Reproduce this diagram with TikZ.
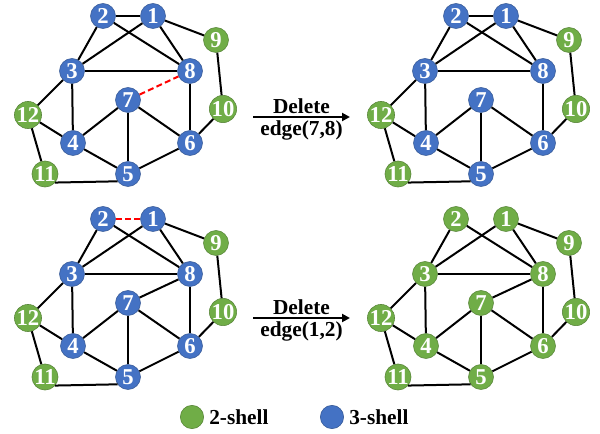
\documentclass[tikz,border=0pt]{standalone}
\usepackage{fontspec}
\setmainfont{Liberation Serif}
\usetikzlibrary{arrows.meta,positioning}

\definecolor{shellblue}{HTML}{4472C4}
\definecolor{shellgreen}{HTML}{70AD47}

\begin{document}
\begin{tikzpicture}[
        x=0.75pt, y=-0.75pt,
        vtx/.style={circle, minimum size=18.75pt, inner sep=0pt, text=white,
            font=\fontsize{17}{17}\selectfont\bfseries, line width=0.4pt},
        two/.style={vtx, fill=shellgreen, draw=shellgreen!75!black},
        three/.style={vtx, fill=shellblue, draw=shellblue!75!black},
        link/.style={line width=1.5pt},
        cut/.style={line width=1.5pt, red, dash pattern=on 4.5pt off 2.5pt},
        lbl/.style={font=\fontsize{16}{16}\selectfont\bfseries},
        step arrow/.style={line width=1.5pt, -{Triangle[length=6pt,width=6pt]}}
    ]
    \useasboundingbox (0,0) rectangle (600,434);

    % before deleting edge(7,8)
    \begin{scope}
        \foreach \n/\x/\y/\s in {1/153/16/three,2/103/16/three,3/72/71/three,4/73/143/three,
                5/128/174/three,6/190/143/three,7/128/100/three,8/190/71/three,
                9/216/40/two,10/223/109/two,11/45/174/two,12/28/115/two}
            \node[\s] (a\n) at (\x,\y) {\n};
        \foreach \u/\v in {1/2,2/3,2/8,1/3,1/8,1/9,9/10,10/6,3/8,3/4,3/12,12/4,
                12/11,4/5,4/7,7/5,7/6,8/6,5/6}
            \draw[link] (a\u) -- (a\v);
        \draw[link] (a11.-40) -- (a5.-145);
        \draw[cut] (a7) -- (a8);
    \end{scope}

    % after deleting edge(7,8)
    \begin{scope}[shift={(353,0)}]
        \foreach \n/\x/\y/\s in {1/153/16/three,2/103/16/three,3/72/71/three,4/73/143/three,
                5/128/174/three,6/190/143/three,7/128/100/three,8/190/71/three,
                9/216/40/two,10/223/109/two,11/45/174/two,12/28/115/two}
            \node[\s] (b\n) at (\x,\y) {\n};
        \foreach \u/\v in {1/2,2/3,2/8,1/3,1/8,1/9,9/10,10/6,3/8,3/4,3/12,12/4,
                12/11,4/5,4/7,7/5,7/6,8/6,5/6}
            \draw[link] (b\u) -- (b\v);
        \draw[link] (b11.-40) -- (b5.-145);
    \end{scope}

    % before deleting edge(1,2)
    \begin{scope}[shift={(0,203)}]
        \foreach \n/\x/\y/\s in {1/153/16/three,2/103/16/three,3/72/71/three,4/73/143/three,
                5/128/174/three,6/190/143/three,7/128/100/three,8/190/71/three,
                9/216/40/two,10/223/109/two,11/45/174/two,12/28/115/two}
            \node[\s] (c\n) at (\x,\y) {\n};
        \foreach \u/\v in {2/3,2/8,1/3,1/8,1/9,9/10,10/6,3/8,3/4,3/12,12/4,
                12/11,4/5,4/7,7/5,7/6,7/8,8/6,5/6}
            \draw[link] (c\u) -- (c\v);
        \draw[link] (c11.-40) -- (c5.-145);
        \draw[cut] (c2) -- (c1);
    \end{scope}

    % after deleting edge(1,2)
    \begin{scope}[shift={(353,203)}]
        \foreach \n/\x/\y in {1/153/16,2/103/16,3/72/71,4/73/143,5/128/174,6/190/143,
                7/128/100,8/190/71,9/216/40,10/223/109,11/45/174,12/28/115}
            \node[two] (d\n) at (\x,\y) {\n};
        \foreach \u/\v in {2/3,2/8,1/3,1/8,1/9,9/10,10/6,3/8,3/4,3/12,12/4,
                12/11,4/5,4/7,7/5,7/6,7/8,8/6,5/6}
            \draw[link] (d\u) -- (d\v);
        \draw[link] (d11.-40) -- (d5.-145);
    \end{scope}

    % arrows
    \coordinate (upfrom) at (253,117);
    \coordinate (upto) at (350,117);
    \draw[step arrow] (upfrom) -- node[lbl, above, inner sep=2pt] (updel) {Delete}
        node[lbl, below, inner sep=2pt] (upedge) {edge(7,8)} (upto);
    \coordinate (downfrom) at (253,318);
    \coordinate (downto) at (350,318);
    \draw[step arrow] (downfrom) -- node[lbl, above, inner sep=2pt] (downdel) {Delete}
        node[lbl, below, inner sep=2pt] (downedge) {edge(1,2)} (downto);

    % legend
    \node[two, minimum size=17.5pt] (legtwo) at (192,417) {};
    \node[lbl, right=0.5pt of legtwo] (legtwotxt) {2-shell};
    \node[three, minimum size=17.5pt] (legthree) at (332,417) {};
    \node[lbl, right=0.5pt of legthree] (legthreetxt) {3-shell};
\end{tikzpicture}
\end{document}
